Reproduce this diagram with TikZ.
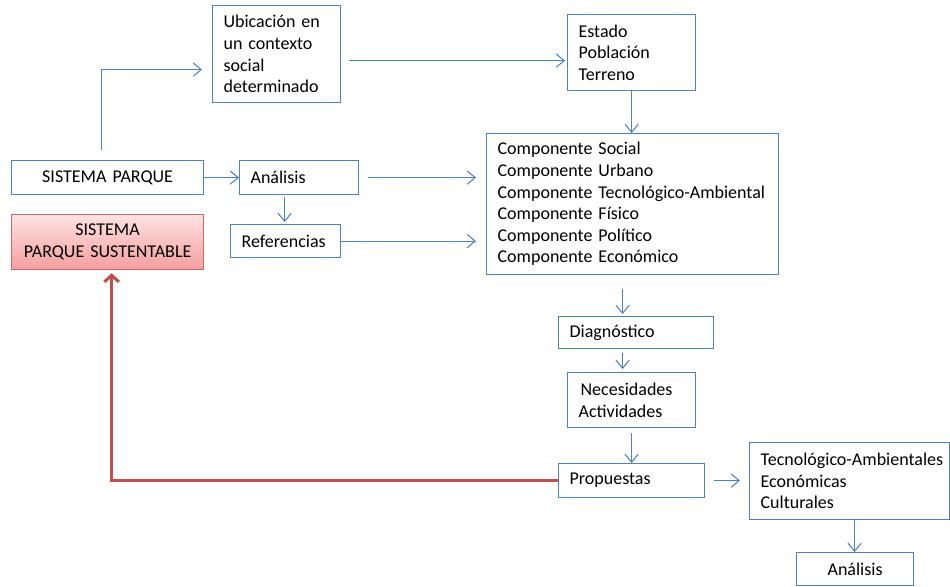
\documentclass[tikz,border=0pt]{standalone}
\usepackage{fontspec}
\setmainfont{Carlito}
\usepackage{tikz}
\usetikzlibrary{arrows.meta}
\newlength\pxu
\setlength\pxu{0.75pt}
\definecolor{lineblue}{RGB}{79,129,189}
\definecolor{linered}{RGB}{192,80,77}
\definecolor{fillredtop}{RGB}{255,226,226}
\definecolor{fillredbot}{RGB}{245,158,158}

\begin{document}
\begin{tikzpicture}[x=0.75pt, y=-0.75pt,
			box/.style={draw=lineblue, line width=0.9pt, rectangle, anchor=north west, align=left,
				inner xsep=11\pxu, inner ysep=0pt, font=\fontsize{13.5}{16.2}\selectfont},
			cbox/.style={box, align=center},
			redbox/.style={cbox, draw=linered!85, top color=fillredtop, bottom color=fillredbot},
			arrow/.style={-{Straight Barb[length=6pt, width=10pt]}, draw=lineblue, line width=0.8pt},
			redarrow/.style={-{Straight Barb[length=5pt, width=11pt]}, draw=linered, line width=2.3pt}]
			
			\useasboundingbox (0,0) rectangle (950,586);
			
			\node[cbox, minimum width=192\pxu, minimum height=34\pxu, text width=170\pxu] (parque) at (11,160) {SISTEMA PARQUE};
			\node[redbox, minimum width=192\pxu, minimum height=55\pxu, text width=170\pxu] (sust) at (11,214) {SISTEMA\\PARQUE SUSTENTABLE};
			\node[box, minimum width=128\pxu, minimum height=97\pxu, text width=106\pxu] (ubic) at (212,5) {Ubicación en\\un contexto\\social\\determinado};
			\node[box, minimum width=119\pxu, minimum height=34\pxu, text width=97\pxu] (anal) at (239,160) {Análisis};
			\node[box, minimum width=110\pxu, minimum height=33\pxu, text width=88\pxu] (refs) at (230,224) {Referencias};
			\node[box, minimum width=128\pxu, minimum height=76\pxu, text width=106\pxu] (estado) at (567,14) {Estado\\Población\\Terreno};
			\node[box, minimum width=292\pxu, minimum height=141\pxu, text width=270\pxu] (comp) at (486,133) {Componente Social\\Componente Urbano\\Componente Tecnológico-Ambiental\\Componente Físico\\Componente Político\\Componente Económico};
			\node[box, minimum width=155\pxu, minimum height=32\pxu, text width=133\pxu] (diag) at (558,316) {Diagnóstico};
			\node[box, minimum width=128\pxu, minimum height=55\pxu, text width=106\pxu] (nec) at (567,372) {\hspace{2\pxu}Necesidades\\Actividades};
			\node[box, minimum width=146\pxu, minimum height=34\pxu, text width=124\pxu] (prop) at (558,463) {Propuestas};
			\node[box, minimum width=200\pxu, minimum height=77\pxu, text width=178\pxu] (tec) at (749,442) {\mbox{Tecnológico-Ambientales}\\Económicas\\Culturales};
			\node[cbox, minimum width=117\pxu, minimum height=33\pxu, text width=95\pxu] (fin) at (796,552) {Análisis};
			
			\draw[arrow] ([xshift=-6\pxu, yshift=10\pxu]parque.north) |- ([xshift=-10\pxu, yshift=-15.5\pxu]ubic.west);
			\draw[arrow, shorten >=10\pxu] ([xshift=8\pxu, yshift=-6.5\pxu]ubic.east) -- ([xshift=8\pxu, yshift=-6.5\pxu]ubic.east -| estado.west);
			\draw[arrow] (estado.south) -- (estado.south |- comp.north);
			\draw[arrow] (parque) -- (anal);
			\draw[arrow, shorten <=2\pxu, shorten >=2\pxu] ([xshift=-14.5\pxu]anal.south) -- ([xshift=-14.5\pxu]anal.south |- refs.north);
			\draw[arrow, shorten <=9\pxu, shorten >=10\pxu] (anal.east) -- (anal.east -| comp.west);
			\draw[arrow, shorten >=10\pxu] (refs.east) -- (refs.east -| comp.west);
			\draw[arrow, shorten <=14\pxu, shorten >=2\pxu] ([xshift=-10\pxu]comp.south) -- ([xshift=-10\pxu]comp.south |- diag.north);
			\draw[arrow, shorten <=4\pxu, shorten >=3\pxu] ([xshift=-13.5\pxu]diag.south) -- ([xshift=-13.5\pxu]diag.south |- nec.north);
			\draw[arrow, shorten <=5\pxu] (nec.south) -- (nec.south |- prop.north);
			\draw[arrow, shorten <=9\pxu, shorten >=9\pxu] (prop.east) -- (prop.east -| tec.west);
			\draw[arrow] ([xshift=5\pxu]tec.south) -- ([xshift=5\pxu]tec.south |- fin.north);
			
			% retorno al sistema sustentable
			\draw[redarrow] (prop.west) -| ([xshift=4\pxu, yshift=-3\pxu]sust.south);
			
		\end{tikzpicture}
\end{document}
